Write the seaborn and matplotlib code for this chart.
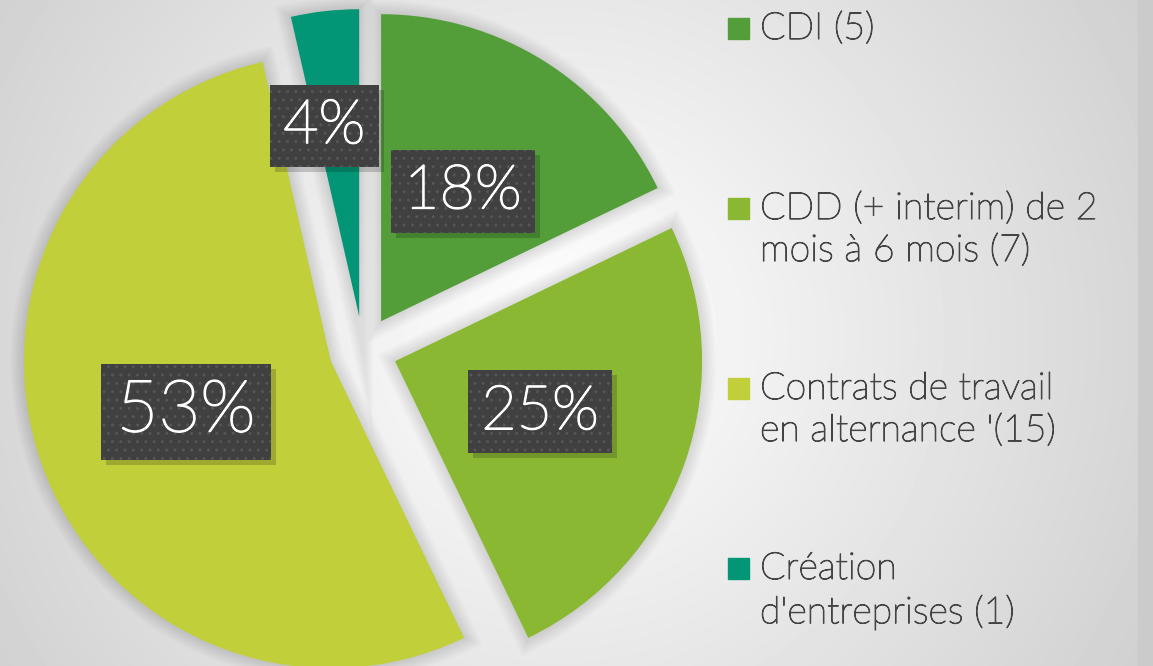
import numpy as np
import matplotlib
matplotlib.use('Agg')
import matplotlib.pyplot as plt
import matplotlib.patheffects as pe
import seaborn as sns
from matplotlib.patches import Rectangle

# Data
categories = ['CDI (5)', 'CDD (+ interim) de 2\nmois à 6 mois (7)',
              'Contrats de travail\nen alternance \'(15)', 'Création\nd\'entreprises (1)']
counts = [5, 7, 15, 1]
pct_labels = ['18%', '25%', '53%', '4%']
colors = ['#549E39', '#8AB833', '#C0CF3A', '#029676']

sns.set_theme(style='white')
plt.rcParams['font.family'] = ['Lato', 'DejaVu Sans']

W, H = 1153, 666
fig = plt.figure(figsize=(W / 100, H / 100), dpi=100)
ax = fig.add_axes([0, 0, 1, 1])

# soft radial background
yy, xx = np.mgrid[0:H, 0:W]
dist = np.sqrt((xx - 560) ** 2 + (yy - 330) ** 2)
shade = np.clip(1 - 0.22 * dist / 800, 0, 1)
ax.imshow(shade, cmap='gray', vmin=0, vmax=1, extent=(0, W, H, 0), zorder=0)
ax.add_patch(Rectangle((1138, 0), W - 1138, H, color='#cbcbcb', zorder=0.5))

center = (363, 316)
radius = 307
explode = [34] * len(counts)

# soft shadow under the wedges
for lw in range(20, 0, -2):
    ax.pie(counts, startangle=90, counterclock=False, explode=explode, radius=radius,
           center=center, frame=True,
           wedgeprops=dict(facecolor='none', edgecolor=(0, 0, 0, 0.01), linewidth=lw))

wedges, texts = ax.pie(counts, colors=sns.color_palette(colors), startangle=90,
                       counterclock=False, explode=explode, radius=radius, center=center,
                       labels=pct_labels, labeldistance=0.5, frame=True,
                       wedgeprops=dict(linewidth=0))
ax.set_xlim(0, W)
ax.set_ylim(0, H)
ax.set_aspect('equal')
ax.axis('off')

for i, (w, t) in enumerate(zip(wedges, texts)):
    small = counts[i] == min(counts)
    dist_frac = 0.63 if small else 0.5
    mid = np.deg2rad((w.theta1 + w.theta2) / 2 + (4 if small else 0))
    cx, cy = w.center
    t.set_position((cx + dist_frac * w.r * np.cos(mid), cy + dist_frac * w.r * np.sin(mid)))
    t.set_ha('center')
    t.set_va('center')
    t.set_color('white')
    t.set_fontweight('light')
    t.set_fontsize(52 if counts[i] == max(counts) else 44)
    t.set_zorder(5)
    t.set_path_effects([pe.withStroke(linewidth=1.3, foreground='white')])
    t.set_bbox(dict(boxstyle='square,pad=0.22', facecolor='#404040', edgecolor='#555555',
                    linewidth=0, hatch='..'))

# drop shadows of the label boxes
fig.canvas.draw()
inv = ax.transData.inverted()
for t in texts:
    bb = t.get_bbox_patch().get_window_extent().transformed(inv)
    ax.add_patch(Rectangle((bb.x0 + 5, bb.y0 - 5), bb.width, bb.height,
                           facecolor=(0, 0, 0, 0.18), linewidth=0, zorder=4.9))

# legend drawn by hand so the swatch sits on the first line
sq = 21
for i, (lab, col) in enumerate(zip(categories, colors)):
    yc = H - (28 + i * 180)
    ax.add_patch(Rectangle((728, yc - sq / 2), sq, sq, color=col, zorder=4))
    ax.text(760, yc + 16, lab, ha='left', va='top', fontsize=27, color='#444444',
            linespacing=1.3, fontweight='light', zorder=4,
            path_effects=[pe.withStroke(linewidth=0.8, foreground='#444444')])

fig.savefig('out.png', dpi=100)
